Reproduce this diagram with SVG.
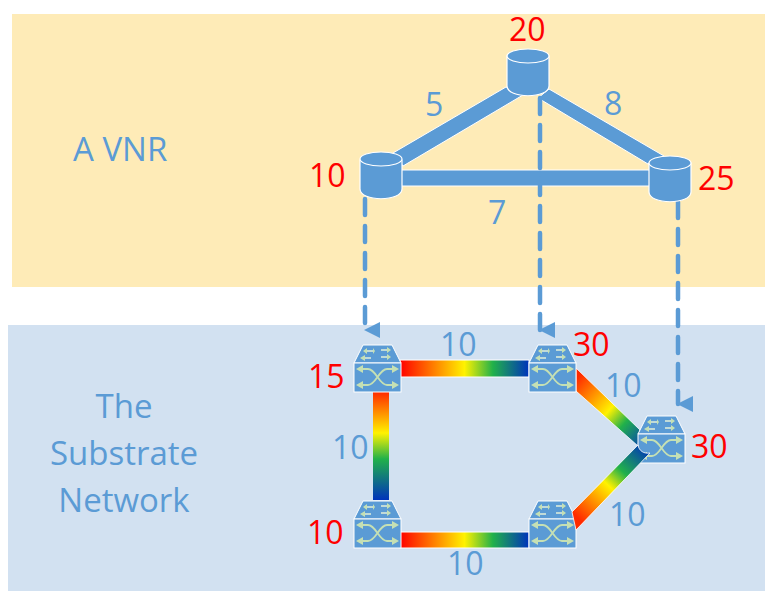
<svg xmlns="http://www.w3.org/2000/svg" xmlns:xlink="http://www.w3.org/1999/xlink" width="765" height="591" viewBox="0 0 765 591">
<style>
text{font-family:"Open Sans","Liberation Sans",sans-serif;}
.b{fill:#5B9BD5;font-size:32px;}
.r{fill:#FF0000;font-size:32px;}
.n{fill:#5B9BD5;font-size:33px;}
.l{fill:#5B9BD5;stroke:#FFFFFF;stroke-width:1;}
.d{fill:none;stroke:#5B9BD5;stroke-width:4.5;stroke-dasharray:16 11;stroke-linecap:round;}
.cy{fill:#5B9BD5;stroke:#FFFFFF;stroke-width:1.2;}
.ar{fill:none;stroke:#C5E0B4;stroke-width:1.8;}
.ah{fill:#C5E0B4;}
.at{fill:none;stroke:#E2F0D9;stroke-width:1.6;}
</style>
<defs>
<linearGradient id="gh" x1="0" y1="0" x2="1" y2="0">
<stop offset="0" stop-color="#FF0000"/><stop offset="0.5" stop-color="#FFF200"/><stop offset="0.72" stop-color="#21B14A"/><stop offset="1" stop-color="#0033BB"/>
</linearGradient>
<linearGradient id="gv" x1="0" y1="0" x2="0" y2="1">
<stop offset="0" stop-color="#FF2A00"/><stop offset="0.38" stop-color="#FFF200"/><stop offset="0.62" stop-color="#21B14A"/><stop offset="1" stop-color="#0033BB"/>
</linearGradient>
<linearGradient id="gd1" gradientUnits="userSpaceOnUse" x1="572" y1="384" x2="640" y2="444">
<stop offset="0" stop-color="#FF2A00"/><stop offset="0.5" stop-color="#FFF200"/><stop offset="0.72" stop-color="#21B14A"/><stop offset="1" stop-color="#0A4FA8"/>
</linearGradient>
<linearGradient id="gd2" gradientUnits="userSpaceOnUse" x1="578" y1="518" x2="646" y2="446">
<stop offset="0" stop-color="#FF2A00"/><stop offset="0.45" stop-color="#FFF200"/><stop offset="0.65" stop-color="#21B14A"/><stop offset="1" stop-color="#0033BB"/>
</linearGradient>
<marker id="tri" markerUnits="userSpaceOnUse" markerWidth="16" markerHeight="16" refX="8" refY="15" orient="auto-start-reverse" viewBox="0 0 16 16"><path d="M0 0H16L8 16Z" fill="#5B9BD5"/></marker>
<symbol id="sw" overflow="visible">
<path d="M9 0H38L47 18H0Z" fill="#5B9BD5" stroke="#FFFFFF" stroke-width="1"/>
<rect x="0" y="18" width="47" height="29" fill="#5B9BD5" stroke="#FFFFFF" stroke-width="1"/>
<path class="at" d="M11 6H19M27 5H35M9 13H17M27 12H35"/>
<path class="ah" d="M9 6L13 3V9ZM21 6L19 3V9ZM37 5L33 2V8ZM37 12L33 9V15ZM6 13L11 10V16Z"/>
<path class="ar" d="M5 24H14C22 24 25 40 33 40H42M5 40H14C22 40 25 24 33 24H42"/>
<path class="ah" d="M2 24L9 20V28ZM2 40L9 36V44ZM45 24L38 20V28ZM45 40L38 36V44Z"/>
</symbol>
</defs>
<rect width="765" height="591" fill="#FFFFFF"/>
<rect x="12" y="14" width="753" height="273" fill="#FEEBB7"/>
<rect x="8" y="325" width="757" height="266" fill="#D2E1F1"/>
<g id="connectors">
<path class="l" d="M393 153L506 87L523 95L403 166Z"/>
<path class="l" d="M549 89L664 156L648 164L538 98Z"/>
<rect class="l" x="400" y="170" width="250" height="16"/>
<path class="d" d="M540 98V330" marker-end="url(#tri)"/>
<path class="d" d="M365 199V330" marker-end="url(#tri)"/>
<path class="d" d="M678 202V404" marker-end="url(#tri)"/>
<rect x="400" y="360" width="129" height="17" fill="url(#gh)" stroke="#FFFFFF" stroke-width="1"/>
<rect x="373" y="392" width="16" height="108" fill="url(#gv)"/>
<rect x="400" y="532" width="129" height="16" fill="url(#gh)" stroke="#FFFFFF" stroke-width="1"/>
<path d="M576 368L640 430L638 446L576 391Z" fill="url(#gd1)" stroke="#FFFFFF" stroke-width="0.8"/>
</g>
<g id="vnr-left"><path class="cy" d="M360 160V189C360 202 402 202 402 189V160Z"/><ellipse class="cy" cx="381" cy="159" rx="21" ry="7"/></g>
<g id="vnr-top"><path class="cy" d="M507 56V86C507 99 549 99 549 86V56Z"/><ellipse class="cy" cx="528" cy="56" rx="21" ry="7"/></g>
<g id="vnr-right"><path class="cy" d="M649 163V192C649 205 691 205 691 192V163Z"/><ellipse class="cy" cx="670" cy="163" rx="21" ry="7"/></g>
<g id="sw-a"><use href="#sw" x="354" y="345"/></g>
<g id="sw-b"><use href="#sw" x="529" y="345"/></g>
<g id="sw-c"><use href="#sw" x="638" y="416"/></g>
<g id="sw-d"><use href="#sw" x="529" y="501"/></g>
<g id="sw-e"><use href="#sw" x="354" y="501"/></g>
<path id="link-dc" d="M572 512L638 445C639 451 644 454 650 453L576 530Z" fill="url(#gd2)" stroke="#FFFFFF" stroke-width="0.8"/>
<text class="n" x="73" y="161">A VNR</text>
<text class="n" text-anchor="middle" x="124" y="418">The</text>
<text class="n" text-anchor="middle" x="124" y="465">Substrate</text>
<text class="n" text-anchor="middle" x="124" y="512">Network</text>
<text class="r" x="509" y="41">20</text>
<text class="r" x="309" y="187">10</text>
<text class="r" x="698" y="190">25</text>
<text class="r" x="573" y="356">30</text>
<text class="r" x="308" y="388">15</text>
<text class="r" x="691" y="458">30</text>
<text class="r" x="307" y="544">10</text>
<text class="b" x="425" y="116">5</text>
<text class="b" x="604" y="115">8</text>
<text class="b" x="488" y="224">7</text>
<text class="b" x="440" y="356">10</text>
<text class="b" x="605" y="397">10</text>
<text class="b" x="332" y="459">10</text>
<text class="b" x="609" y="526">10</text>
<text class="b" x="447" y="575">10</text>
</svg>
